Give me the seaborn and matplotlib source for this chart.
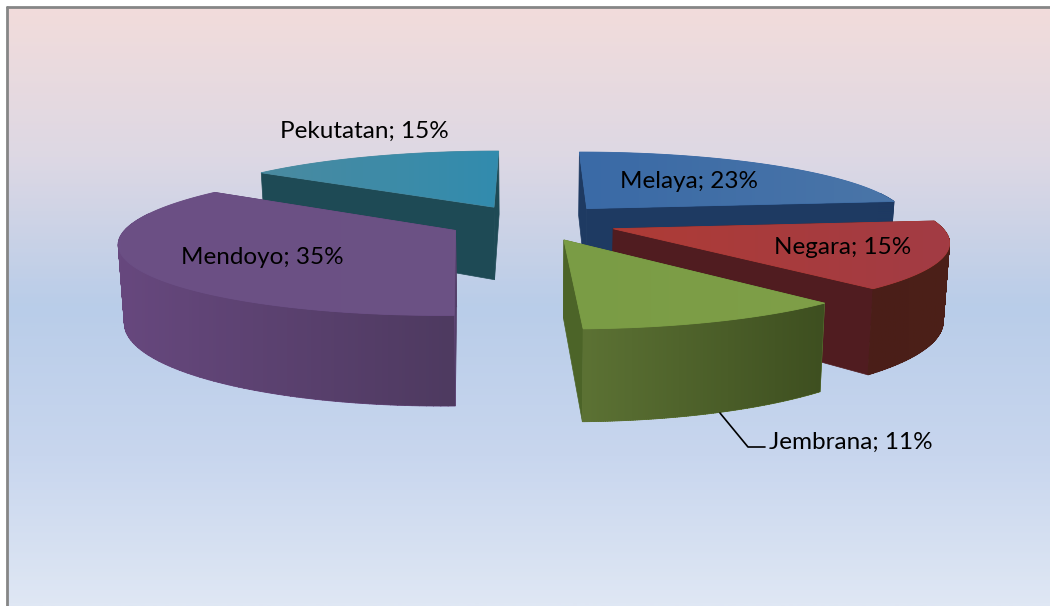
import numpy as np
import matplotlib
matplotlib.use('Agg')
import matplotlib.pyplot as plt
from matplotlib.patches import Polygon, PathPatch
from matplotlib.path import Path
import seaborn as sns

# Datos del grafico
kecamatan = ['Melaya', 'Negara', 'Jembrana', 'Mendoyo', 'Pekutatan']
persen = [23, 15, 11, 35, 15]

# Colores de cada porcion: tapa (2 tonos), corte, pared (2 tonos)
tapa = [('#3A6AA6', '#4A75A8'), ('#AE3B36', '#A23C44'), ('#7A9C45', '#7F9F48'),
        ('#6B4F85', '#6C5284'), ('#4A8AA0', '#328CAE')]
corte = ['#1E3A62', '#501C20', '#4C6428', '#54406A', '#1E4A55']
pared = [('#1E3A62', '#1E3A62'), ('#4A1E18', '#4C2018'), ('#5C7234', '#3E4F20'),
         ('#67487E', '#4E3A60'), ('#1E4A55', '#1E4A55')]
label_pos = [(689, 181), (843, 247), (851, 442), (262, 258), (364, 131)]
expl = [0.27, 0.27, 0.27, 0.255, 0.25]

sns.set_theme(style='white')
plt.rcParams['font.family'] = ['Lato', 'DejaVu Sans']

fig, ax = plt.subplots(figsize=(10.5, 6.06), dpi=100)
ax.set_position([0, 0, 1, 1])
ax.axis('off')

# Fondo degradado
fondo = sns.blend_palette(['#F2DCDB', '#DDD8E4', '#B9CDE9', '#C8D6EE', '#DFE7F4'], as_cmap=True)
ax.imshow(np.linspace(0, 1, 300).reshape(-1, 1), cmap=fondo, extent=(7, 1050, 606, 7), aspect='auto', zorder=0)
ax.plot([7, 7], [606, 7], color='#868686', lw=2, zorder=1)
ax.plot([7, 1050], [7, 7], color='#868686', lw=2, zorder=1)

# Proyeccion en perspectiva del pastel explotado
x0, y0 = 530, 222
rx, ry = 325, 69
p = 0.154
alto = 75


def proyectar(X, Y, abajo=False):
    f = 1 / (1 + p * Y)
    x = rx * X * f
    y = -ry * Y * f
    if abajo:
        return x0 + x * 0.985, y0 + y + alto * f
    return x0 + x, y0 + y


def gradiente(path, c1, c2, z):
    pol = PathPatch(path, fc=c1, ec=c1, lw=0.6, zorder=z)
    ax.add_patch(pol)
    cmap = sns.blend_palette([c1, c2], as_cmap=True)
    xs, ys = path.vertices[:, 0], path.vertices[:, 1]
    im = ax.imshow(np.linspace(0, 1, 100).reshape(1, -1), cmap=cmap, aspect='auto', zorder=z,
                   extent=(xs.min(), xs.max(), ys.max(), ys.min()))
    im.set_clip_path(pol)


def tiras(xa, ya, xb, yb):
    # cuadros con la misma orientacion para que no se anulen al solaparse
    partes = []
    for j in range(len(xa) - 1):
        q = np.array([[xa[j], ya[j]], [xa[j + 1], ya[j + 1]], [xb[j + 1], yb[j + 1]], [xb[j], yb[j]], [xa[j], ya[j]]])
        area = np.sum(q[:-1, 0] * q[1:, 1] - q[1:, 0] * q[:-1, 1])
        if area < 0:
            q = q[::-1]
        partes.append(Path(q, closed=True))
    return Path.make_compound_path(*partes)


total = sum(persen)
inicio = 90 - np.cumsum([0] + persen[:-1]) * 360 / total
fin = 90 - np.cumsum(persen) * 360 / total

for n, i in enumerate([4, 0, 3, 1, 2]):
    base_z = 2 + n * 3
    t = np.radians(np.linspace(inicio[i], fin[i], 120))
    mid = np.radians((inicio[i] + fin[i]) / 2)
    cx, cy = expl[i] * np.cos(mid), expl[i] * np.sin(mid)
    X = np.r_[cx, cx + np.cos(t)]
    Y = np.r_[cy, cy + np.sin(t)]

    # caras de corte
    for k in [1, len(X) - 1]:
        a = proyectar(X[[0, k]], Y[[0, k]])
        b = proyectar(X[[k, 0]], Y[[k, 0]], abajo=True)
        ax.add_patch(Polygon(np.c_[np.r_[a[0], b[0]], np.r_[a[1], b[1]]], fc=corte[i], ec=corte[i], lw=0.5, zorder=base_z))

    # pared exterior
    xa, ya = proyectar(X[1:], Y[1:])
    xb, yb = proyectar(X[1:], Y[1:], abajo=True)
    vis = np.sin(t) < 0.25
    if vis.sum() > 1:
        gradiente(tiras(xa[vis], ya[vis], xb[vis], yb[vis]), pared[i][0], pared[i][1], base_z + 1)

    # tapa
    xt, yt = proyectar(X, Y)
    gradiente(Path(np.c_[np.r_[xt, xt[0]], np.r_[yt, yt[0]]], closed=True), tapa[i][0], tapa[i][1], base_z + 2)

ax.set_xlim(0, 1050)
ax.set_ylim(606, 0)

# Etiquetas
for i, nombre in enumerate(kecamatan):
    ax.text(label_pos[i][0], label_pos[i][1], f'{nombre}; {persen[i]}%', ha='center', va='center',
            fontsize=17.5, color='black', zorder=30)
ax.plot([720, 748, 765], [413, 447, 447], color='black', lw=1.2, zorder=30)

fig.savefig('out.png', dpi=100)
